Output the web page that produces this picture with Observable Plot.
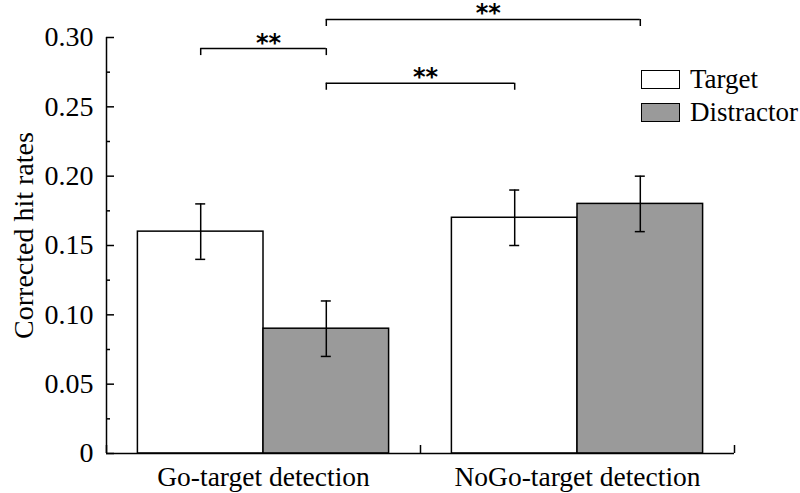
<!DOCTYPE html>
<html>
<head>
<meta charset="utf-8">
<script src="https://cdn.jsdelivr.net/npm/d3@7"></script>
<script src="https://cdn.jsdelivr.net/npm/@observablehq/plot@0.6"></script>
<style>
  html, body { margin: 0; padding: 0; background: #fff; }
  #wrap { position: relative; width: 800px; height: 493px; font-family: "Liberation Serif", serif; }
  #wrap svg { overflow: visible; }
  #legend { position: absolute; left: 641px; top: 63px; font-size: 27px; color: #000; line-height: 1; }
  .item { display: flex; align-items: center; height: 33px; }
  .sw { width: 37px; height: 17px; border: 1.5px solid #000; margin-right: 10px; box-sizing: content-box; }
</style>
</head>
<body>
<div id="wrap"><div id="legend"></div></div>
<script>
// ---- data ----
const groups = ["Go-target detection", "NoGo-target detection"];
const conditions = ["Target", "Distractor"];
const targetValues = [0.16, 0.17];
const distractorValues = [0.09, 0.18];
const targetErrors = [0.02, 0.02];
const distractorErrors = [0.02, 0.02];
const yTicks = [0, 0.05, 0.10, 0.15, 0.20, 0.25, 0.30];
const yTickLabels = ["0", "0.05", "0.10", "0.15", "0.20", "0.25", "0.30"];
const yMinorTicks = [0.025, 0.075, 0.125, 0.175, 0.225, 0.275];
const yTitle = "Corrected hit rates";
// significance brackets: [group, condition] endpoints and level
const brackets = [
  {from: [0, 0], to: [0, 1], level: 0.292, label: "**"},
  {from: [0, 1], to: [1, 1], level: 0.313, label: "**"},
  {from: [0, 1], to: [1, 0], level: 0.267, label: "**"}
];
const colors = ["#ffffff", "#9a9a9a"];

// ---- layout ----
const W = 800, H = 493;
const mL = 106, mR = 66, mT = 37, mB = 40;
const pxX = (W - mL - mR) / 2;           // px per group unit
const pxY = (H - mT - mB) / 0.30;        // px per y unit
const barOffset = 0.1, barWidth = 0.4;

const bars = [];
groups.forEach((g, gi) => {
  conditions.forEach((c, ci) => {
    const v = ci === 0 ? targetValues[gi] : distractorValues[gi];
    const e = ci === 0 ? targetErrors[gi] : distractorErrors[gi];
    bars.push({group: g, condition: c, gi, ci, value: v, err: e,
      x1: gi + barOffset + ci * barWidth, x2: gi + barOffset + (ci + 1) * barWidth,
      xc: gi + barOffset + (ci + 0.5) * barWidth});
  });
});
const center = ([gi, ci]) => gi + barOffset + (ci + 0.5) * barWidth;
const capHalf = 5 / pxX;
const drop = 7 / pxY;
const drops = brackets.flatMap(b => [{x: center(b.from), level: b.level}, {x: center(b.to), level: b.level}]);
const sw = 1.5;

const plot = Plot.plot({
  width: W, height: H,
  marginLeft: mL, marginRight: mR, marginTop: mT, marginBottom: mB,
  style: {fontFamily: "Liberation Serif, serif", fontSize: "28px", color: "#000", background: "transparent", overflow: "visible"},
  x: {type: "linear", domain: [0, 2], axis: null},
  y: {domain: [0, 0.30], axis: null},
  color: {domain: conditions, range: colors},
  marks: [
    Plot.rect(bars, {x1: "x1", x2: "x2", y1: 0, y2: "value", fill: "condition", stroke: "#000", strokeWidth: sw}),
    // error bars
    Plot.ruleX(bars, {x: "xc", y1: d => d.value - d.err, y2: d => d.value + d.err, stroke: "#000", strokeWidth: sw}),
    Plot.ruleY(bars, {y: d => d.value - d.err, x1: d => d.xc - capHalf, x2: d => d.xc + capHalf, stroke: "#000", strokeWidth: sw}),
    Plot.ruleY(bars, {y: d => d.value + d.err, x1: d => d.xc - capHalf, x2: d => d.xc + capHalf, stroke: "#000", strokeWidth: sw}),
    // axes lines
    Plot.ruleX([0], {y1: 0, y2: 0.30, stroke: "#000", strokeWidth: sw}),
    Plot.ruleY([0], {x1: 0, x2: 2, stroke: "#000", strokeWidth: sw}),
    // inward ticks
    Plot.ruleY(yTicks, {y: d => d, x1: 0, x2: 8 / pxX, stroke: "#000", strokeWidth: sw}),
    Plot.ruleY(yMinorTicks, {y: d => d, x1: 0, x2: 4 / pxX, stroke: "#000", strokeWidth: sw}),
    Plot.ruleX([0, 1, 2], {x: d => d, y1: 0, y2: 8 / pxY, stroke: "#000", strokeWidth: sw}),
    Plot.axisY({ticks: yTicks, tickFormat: (d) => yTickLabels[yTicks.indexOf(d)], tickSize: 0, tickPadding: 13, label: null, fontSize: 28}),
    Plot.axisX({ticks: [0.5, 1.5], tickFormat: d => groups[Math.floor(d)], tickSize: 0, tickPadding: 13, label: null, fontSize: 27.5}),
    Plot.text([yTitle], {text: d => d, frameAnchor: "left", dx: -74, dy: -10, rotate: -90, lineAnchor: "bottom", textAnchor: "middle", fontSize: 28, fill: "#000"}),
    // significance brackets
    Plot.ruleY(brackets, {y: "level", x1: d => center(d.from), x2: d => center(d.to), stroke: "#000", strokeWidth: sw}),
    Plot.ruleX(drops, {x: "x", y1: d => d.level - drop, y2: "level", stroke: "#000", strokeWidth: sw}),
    Plot.text(brackets, {x: d => (center(d.from) + center(d.to)) / 2, y: "level", text: "label", dx: 5, dy: 2,
      lineAnchor: "bottom", fontFamily: "DejaVu Sans, sans-serif", fontWeight: "bold", fontSize: 24, fill: "#000"})
  ]
});
document.getElementById("wrap").prepend(plot);

// legend
const leg = document.getElementById("legend");
conditions.forEach((c, i) => {
  const it = document.createElement("div");
  it.className = "item";
  const s = document.createElement("div");
  s.className = "sw";
  s.style.background = colors[i];
  const t = document.createElement("span");
  t.textContent = c;
  it.append(s, t);
  leg.append(it);
});
</script>
</body>
</html>
